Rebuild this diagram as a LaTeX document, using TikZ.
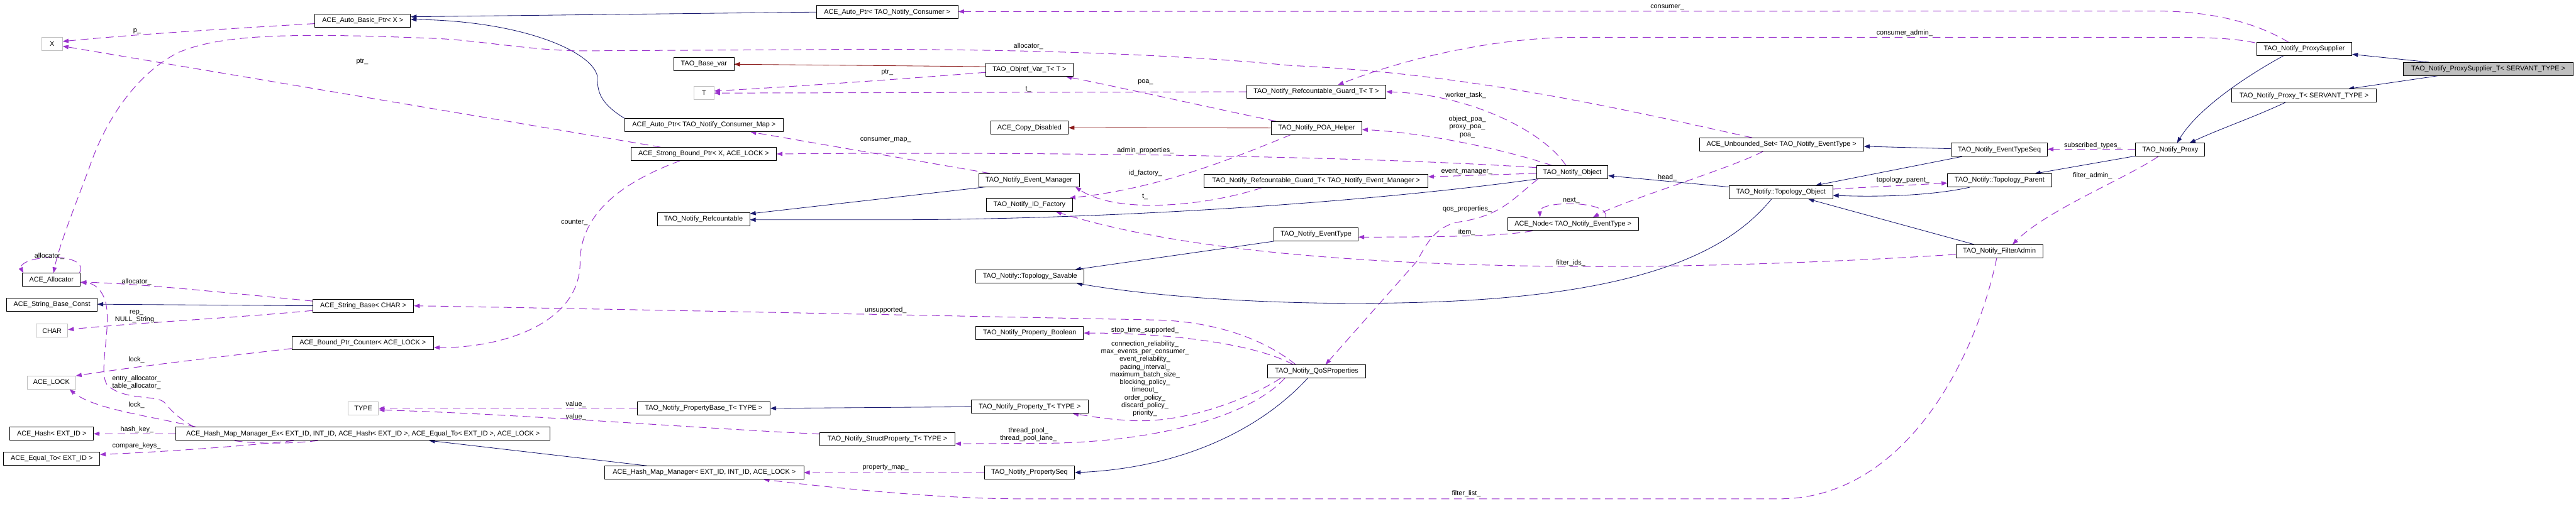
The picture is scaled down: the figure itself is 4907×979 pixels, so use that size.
\documentclass[tikz,border=0pt]{standalone}
\usepackage{fontspec}
\setmainfont{Liberation Sans}
\usetikzlibrary{arrows.meta,calc}
\pgfdeclarelayer{bg}
\pgfsetlayers{bg,main}
\definecolor{purp}{HTML}{9A32CD}
\definecolor{navy}{HTML}{191970}
\definecolor{fred}{HTML}{8B1A1A}
\definecolor{lgray}{HTML}{BFBFBF}
\definecolor{hlgray}{HTML}{BFBFBF}
\newcommand\dfont{\fontsize{13}{14.7}\selectfont}
\begin{document}
\begin{tikzpicture}[x=1pt,y=-1pt,
  cls/.style={draw=black,fill=white,line width=1pt,minimum height=25pt,inner sep=0pt,font=\dfont},
  ext/.style={cls,draw=lgray},
  hl/.style={cls,fill=hlgray},
  arrowtip/.style={-{Triangle[length=11pt,width=8pt]}},
  inh/.style={draw=navy,line width=1pt,arrowtip},
  inhp/.style={draw=fred,line width=1pt,arrowtip},
  usesedge/.style={draw=purp,line width=1.2pt,dash pattern=on 15pt off 9pt,arrowtip},
  lab/.style={font=\dfont,inner sep=0pt,align=center}]
\useasboundingbox (0,0) rectangle (4907,979);
% nodes
\node[ext,minimum width=40pt] (X) at (99,83.5) {X};
\node[cls,minimum width=182pt] (AABP) at (691,39) {ACE\_Auto\_Basic\_Ptr< X >};
\node[cls,minimum width=270pt] (AAPC) at (1690,23) {ACE\_Auto\_Ptr< TAO\_Notify\_Consumer >};
\node[cls,minimum width=114pt] (TBV) at (1341,122.5) {TAO\_Base\_var};
\node[ext,minimum width=38pt] (T) at (1341,177.5) {T};
\node[cls,minimum width=166pt] (OVT) at (1961,133) {TAO\_Objref\_Var\_T< T >};
\node[cls,minimum width=265pt] (RGT) at (2507.5,175) {TAO\_Notify\_Refcountable\_Guard\_T< T >};
\node[cls,minimum width=148pt] (ACD) at (1961,243.5) {ACE\_Copy\_Disabled};
\node[cls,minimum width=172pt] (POA) at (2508,244) {TAO\_Notify\_POA\_Helper};
\node[cls,minimum width=302pt] (AAPM) at (1341,238.5) {ACE\_Auto\_Ptr< TAO\_Notify\_Consumer\_Map >};
\node[cls,minimum width=277pt] (ASBP) at (1340.5,293.5) {ACE\_Strong\_Bound\_Ptr< X, ACE\_LOCK >};
\node[cls,minimum width=192pt] (EM) at (1960,343.5) {TAO\_Notify\_Event\_Manager};
\node[cls,minimum width=426pt] (RGEM) at (2507,345) {TAO\_Notify\_Refcountable\_Guard\_T< TAO\_Notify\_Event\_Manager >};
\node[cls,minimum width=164pt] (IDF) at (1961,390.5) {TAO\_Notify\_ID\_Factory};
\node[cls,minimum width=176pt] (REF) at (1340,417.5) {TAO\_Notify\_Refcountable};
\node[cls,minimum width=136pt] (NO) at (2995,328.5) {TAO\_Notify\_Object};
\node[cls,minimum width=249pt] (NODE) at (2996.5,427) {ACE\_Node< TAO\_Notify\_EventType >};
\node[cls,minimum width=160pt] (ET) at (2507,447) {TAO\_Notify\_EventType};
\node[cls,minimum width=313pt] (AUS) at (3393.5,275.5) {ACE\_Unbounded\_Set< TAO\_Notify\_EventType >};
\node[cls,minimum width=183pt] (ETS) at (3808.5,285.5) {TAO\_Notify\_EventTypeSeq};
\node[cls,minimum width=197pt] (TO) at (3392.5,366.5) {TAO\_Notify::Topology\_Object};
\node[cls,minimum width=198pt] (TP) at (3809,344) {TAO\_Notify::Topology\_Parent};
\node[cls,minimum width=165pt] (FA) at (3808.5,479) {TAO\_Notify\_FilterAdmin};
\node[cls,minimum width=132pt] (PR) at (4134,285.5) {TAO\_Notify\_Proxy};
\node[cls,minimum width=181pt] (PS) at (4389.5,93.5) {TAO\_Notify\_ProxySupplier};
\node[hl,minimum width=324pt] (PST) at (4740,131.5) {TAO\_Notify\_ProxySupplier\_T< SERVANT\_TYPE >};
\node[cls,minimum width=276pt] (PT) at (4389,182.5) {TAO\_Notify\_Proxy\_T< SERVANT\_TYPE >};
\node[cls,minimum width=206pt] (TS) at (1962,527) {TAO\_Notify::Topology\_Savable};
\node[cls,minimum width=110pt] (ALLOC) at (98,533.5) {ACE\_Allocator};
\node[cls,minimum width=172pt] (SBC) at (99,581) {ACE\_String\_Base\_Const};
\node[ext,minimum width=60pt] (CHAR) at (99,630.5) {CHAR};
\node[ext,minimum width=92pt] (LOCK) at (98,729.5) {ACE\_LOCK};
\node[cls,minimum width=159pt] (HASH) at (98.5,827) {ACE\_Hash< EXT\_ID >};
\node[cls,minimum width=183pt] (EQ) at (98.5,874.5) {ACE\_Equal\_To< EXT\_ID >};
\node[cls,minimum width=192pt] (SB) at (692,583) {ACE\_String\_Base< CHAR >};
\node[cls,minimum width=270pt] (BPC) at (691,653.5) {ACE\_Bound\_Ptr\_Counter< ACE\_LOCK >};
\node[ext,minimum width=58pt] (TYPE) at (692,778.5) {TYPE};
\node[cls,minimum width=713pt] (HMME) at (691.5,827) {ACE\_Hash\_Map\_Manager\_Ex< EXT\_ID, INT\_ID, ACE\_Hash< EXT\_ID >, ACE\_Equal\_To< EXT\_ID >, ACE\_LOCK >};
\node[cls,minimum width=253pt] (PBT) at (1340.5,778.5) {TAO\_Notify\_PropertyBase\_T< TYPE >};
\node[cls,minimum width=257pt] (SPT) at (1690.5,837.5) {TAO\_Notify\_StructProperty\_T< TYPE >};
\node[cls,minimum width=379pt] (HMM) at (1341.5,901) {ACE\_Hash\_Map\_Manager< EXT\_ID, INT\_ID, ACE\_LOCK >};
\node[cls,minimum width=205pt] (PB) at (1961.5,635) {TAO\_Notify\_Property\_Boolean};
\node[cls,minimum width=223pt] (PTT) at (1961.5,775.5) {TAO\_Notify\_Property\_T< TYPE >};
\node[cls,minimum width=172pt] (PSEQ) at (1961,901) {TAO\_Notify\_PropertySeq};
\node[cls,minimum width=186pt] (QOS) at (2508,708) {TAO\_Notify\_QoSProperties};
% edges
\begin{pgfonlayer}{bg}
\fill[white] (0,0) rectangle (4907,979);
\draw[usesedge] ($(AABP.west)+(0,6)$) .. controls (430,55) and (250,66) .. ($(X.east)+(0,-4.5)$);
\draw[usesedge] ($(ASBP.north west)+(57,0)$) -- ($(X.east)+(0,4.5)$);
\draw[inh] (AAPC.west) -- ($(AABP.east)+(0,-7)$);
\draw[inh] (AAPM.north west) .. controls (1140,195) and (1138,172) .. (1138,146) .. controls (1130,100) and (1000,40) .. ($(AABP.east)+(0,-2)$);
\draw[inhp] ($(OVT.west)+(0,-6)$) -- (TBV.east);
\draw[usesedge] ($(OVT.west)+(0,5)$) .. controls (1700,152) and (1500,166) .. ($(T.east)+(0,-4)$);
\draw[usesedge] (RGT.west) -- (T.east);
\draw[usesedge] ($(POA.north west)+(9,0)$) .. controls (2350,215) and (2150,170) .. ($(OVT.south east)+(-14,0)$);
\draw[inhp] (POA.west) -- (ACD.east);
\draw[usesedge] ($(EM.north west)+(22,0)$) -- ($(AAPM.south east)+(-63,0)$);
\draw[usesedge] ($(NO.west)+(0,-9)$) .. controls (2600,298) and (2000,289) .. (ASBP.east);
\draw[usesedge] ($(RGEM.south west)+(110,0)$) .. controls (2300,392) and (2130,410) .. ($(EM.south east)+(-8,0)$);
\draw[usesedge] ($(POA.south west)+(37,0)$) .. controls (2330,310) and (2200,360) .. ($(IDF.north east)+(-6,0)$);
\draw[usesedge] ($(NO.north)+(-12,0)$) .. controls (2940,250) and (2800,180) .. (RGT.east);
\draw[usesedge] ($(NO.north west)+(30,0)$) .. controls (2850,280) and (2700,252) .. ($(POA.east)+(0,3)$);
\draw[usesedge] ($(NO.west)+(0,2)$) -- ($(RGEM.east)+(0,-8)$);
\draw[usesedge] ($(NO.south west)+(3,0)$) .. controls (2880,380) and (2860,412) .. (2774,424) .. controls (2735,434) and (2718,462) .. (2700,497) -- ($(QOS.north)+(17,0)$);
\draw[inh] (NO.south west) .. controls (2550,393) and (2050,419) .. (1700,419) -- ($(REF.east)+(0,1.5)$);
\draw[inh] ($(EM.south west)+(14,0)$) -- ($(REF.east)+(0,-10)$);
\draw[usesedge] ($(PS.north)+(-30,0)$) .. controls (4300,45) and (4220,22) .. (4110,21) -- ($(AAPC.east)+(0,-1)$);
\draw[usesedge] ($(PS.north west)+(-3,1)$) .. controls (4250,72) and (4200,71) .. (4100,71) -- (3000,71) .. controls (2850,72) and (2680,110) .. ($(RGT.north)+(41,0)$);
\draw[usesedge] ($(AUS.north west)+(101,0)$) .. controls (3100,210) and (2800,140) .. (2460,125) .. controls (2200,100) and (1900,94) .. (1640,94) -- (1102,97) .. controls (1000,95) and (900,75) .. (820,73) .. controls (550,62) and (420,66) .. (340,100) .. controls (260,140) and (200,230) .. (170,320) .. controls (140,400) and (112,470) .. ($(ALLOC.north)+(4,0)$);
\draw[usesedge] ($(ALLOC.north east)+(-2,0)$) .. controls (165,492) and (110,488) .. (80,492) .. controls (45,496) and (38,508) .. ($(ALLOC.north west)+(2,0)$);
\draw[usesedge] ($(SB.west)+(0,-9)$) .. controls (450,560) and (260,540) .. ($(ALLOC.east)+(0,4.5)$);
\draw[inh] (SB.west) -- ($(SBC.east)+(0,-1)$);
\draw[usesedge] ($(SB.west)+(0,9)$) .. controls (450,606) and (250,616) .. ($(CHAR.east)+(0,-2)$);
\draw[usesedge] ($(BPC.south west)+(0,-2)$) .. controls (420,680) and (250,700) .. (LOCK.north east);
\draw[usesedge] ($(ASBP.south west)+(94,0)$) .. controls (1150,360) and (1105,430) .. (1105,500) .. controls (1105,620) and (950,664) .. ($(BPC.east)+(0,9)$);
\draw[usesedge] ($(HMME.north west)+(39,0)$) .. controls (280,792) and (180,780) .. ($(LOCK.south east)+(-12,0)$);
\draw[usesedge] ($(HMME.south west)+(271,0)$) .. controls (540,848) and (460,846) .. (420,835) .. controls (370,820) and (335,795) .. (314,768) .. controls (300,752) and (240,765) .. (205,735) .. controls (185,710) and (215,620) .. (200,572) .. controls (193,552) and (180,540) .. ($(ALLOC.east)+(0,5)$);
\draw[usesedge] (HMME.west) -- (HASH.east);
\draw[usesedge] ($(HMME.south west)+(225,0)$) .. controls (450,852) and (300,862) .. ($(EQ.east)+(0,-8)$);
\draw[usesedge] (PBT.west) -- (TYPE.east);
\draw[usesedge] ($(SPT.west)+(0,-10)$) .. controls (1300,815) and (1000,790) .. ($(TYPE.east)+(0,3)$);
\draw[inh] (PTT.west) -- (PBT.east);
\draw[inh] ($(HMM.north west)+(81,0)$) -- ($(HMME.south)+(126,0)$);
\draw[usesedge] (PSEQ.west) -- (HMM.east);
\draw[usesedge] ($(FA.south)+(-5,0)$) .. controls (3760,700) and (3620,951) .. (3390,951) -- (1940,951) .. controls (1800,951) and (1600,932) .. ($(HMM.south)+(113,0)$);
\draw[usesedge] ($(FA.west)+(0,6)$) .. controls (3500,500) and (3200,510) .. (2992,508) .. controls (2600,505) and (2250,478) .. ($(IDF.south)+(50,0)$);
\draw[inh] (ET.south west) -- ($(TS.north)+(86,0)$);
\draw[inh] ($(TO.south)+(-18,0)$) .. controls (3300,470) and (3150,562) .. (2720,576) .. controls (2450,585) and (2200,566) .. ($(TS.south east)+(-15,0)$);
\draw[usesedge] ($(QOS.north)+(-45,0)$) .. controls (2400,660) and (2250,635) .. (PB.east);
\draw[usesedge] ($(QOS.north)+(-40,0)$) .. controls (2400,640) and (2300,612) .. (2200,610) .. controls (1800,602) and (1200,590) .. (SB.east);
\draw[usesedge] ($(QOS.south west)+(25,0)$) .. controls (2380,760) and (2260,806) .. (2160,802) .. controls (2110,800) and (2080,794) .. ($(PTT.south east)+(-30,0)$);
\draw[usesedge] ($(QOS.south west)+(33,0)$) .. controls (2380,795) and (2200,842) .. (2000,845) -- ($(SPT.east)+(0,8.5)$);
\draw[inh] ($(QOS.south)+(-17,0)$) .. controls (2400,820) and (2250,892) .. (PSEQ.east);
\draw[inh] ($(TO.west)+(0,-10)$) -- ($(NO.east)+(0,6.5)$);
\draw[inh] ($(ETS.west)+(0,-2)$) -- ($(AUS.east)+(0,3.5)$);
\draw[usesedge] ($(AUS.south)+(-35,0)$) .. controls (3300,320) and (3100,380) .. ($(NODE.north)+(38,0)$);
\draw[usesedge] ($(NODE.north)+(62,0)$) .. controls (3068,382) and (2932,382) .. ($(NODE.north)+(-63,0)$);
\draw[usesedge] ($(NODE.south west)+(48,0)$) .. controls (2870,450) and (2750,452) .. ($(ET.east)+(0,5)$);
\draw[inh] ($(ETS.south west)+(21,0)$) -- ($(TO.north)+(66,0)$);
\draw[usesedge] ($(TO.east)+(0,-6)$) -- ($(TP.west)+(0,5)$);
\draw[inh] ($(TP.south west)+(43,0)$) .. controls (3680,373) and (3580,376) .. ($(TO.east)+(0,6)$);
\draw[inh] ($(FA.north west)+(35,0)$) -- ($(TO.south)+(52,0)$);
\draw[usesedge] ($(PR.west)+(0,-1)$) -- ($(ETS.east)+(0,-1)$);
\draw[inh] ($(PR.south west)+(0,-1)$) -- ($(TP.north)+(67,0)$);
\draw[usesedge] ($(PR.south)+(-23,0)$) .. controls (4050,340) and (3900,400) .. ($(FA.north)+(25,0)$);
\draw[inh] ($(PST.north west)+(49,0)$) -- ($(PS.east)+(0,10)$);
\draw[inh] ($(PST.south west)+(67,0)$) -- ($(PT.north)+(84,0)$);
\draw[inh] ($(PS.south)+(-40,0)$) .. controls (4270,150) and (4185,210) .. ($(PR.north)+(13,0)$);
\draw[inh] ($(PT.south)+(-36,0)$) .. controls (4290,225) and (4230,245) .. ($(PR.north)+(37,0)$);
\end{pgfonlayer}
% labels
\node[lab] at (261,60) {p\_};
\node[lab] at (690,118) {ptr\_};
\node[lab] at (1959,88) {allocator\_};
\node[lab] at (1690,138) {ptr\_};
\node[lab] at (1959,170) {t\_};
\node[lab] at (2182,156) {poa\_};
\node[lab] at (1687,267) {consumer\_map\_};
\node[lab] at (2182,287) {admin\_properties\_};
\node[lab] at (2182,330) {id\_factory\_};
\node[lab] at (2181,375) {t\_};
\node[lab] at (3176,14) {consumer\_};
\node[lab] at (3628,63) {consumer\_admin\_};
\node[lab] at (2792,182) {worker\_task\_};
\node[lab] at (2795,242) {object\_poa\_\\proxy\_poa\_\\poa\_};
\node[lab] at (2794,327) {event\_manager\_};
\node[lab] at (2795,398) {qos\_properties\_};
\node[lab] at (3176,339) {head\_};
\node[lab] at (2993,382) {next\_};
\node[lab] at (2794,443) {item\_};
\node[lab] at (3625,344) {topology\_parent\_};
\node[lab] at (3986,277) {subscribed\_types\_};
\node[lab] at (3986,335) {filter\_admin\_};
\node[lab] at (2992,501) {filter\_ids\_};
\node[lab] at (2793,941) {filter\_list\_};
\node[lab] at (94,488) {allocator\_};
\node[lab] at (260,537) {allocator\_};
\node[lab] at (260,603) {rep\_\\NULL\_String\_};
\node[lab] at (260,686) {lock\_};
\node[lab] at (260,729) {entry\_allocator\_\\table\_allocator\_};
\node[lab] at (260,772) {lock\_};
\node[lab] at (261,819) {hash\_key\_};
\node[lab] at (260,850) {compare\_keys\_};
\node[lab] at (1094,424) {counter\_};
\node[lab] at (1097,771) {value\_};
\node[lab] at (1097,795) {value\_};
\node[lab] at (1687,592) {unsupported\_};
\node[lab] at (1687,892) {property\_map\_};
\node[lab] at (2181,630) {stop\_time\_supported\_};
\node[lab] at (2181,722) {connection\_reliability\_\\max\_events\_per\_consumer\_\\event\_reliability\_\\pacing\_interval\_\\maximum\_batch\_size\_\\blocking\_policy\_\\timeout\_\\order\_policy\_\\discard\_policy\_\\priority\_};
\node[lab] at (1959,829) {thread\_pool\_\\thread\_pool\_lane\_};
\end{tikzpicture}
\end{document}
